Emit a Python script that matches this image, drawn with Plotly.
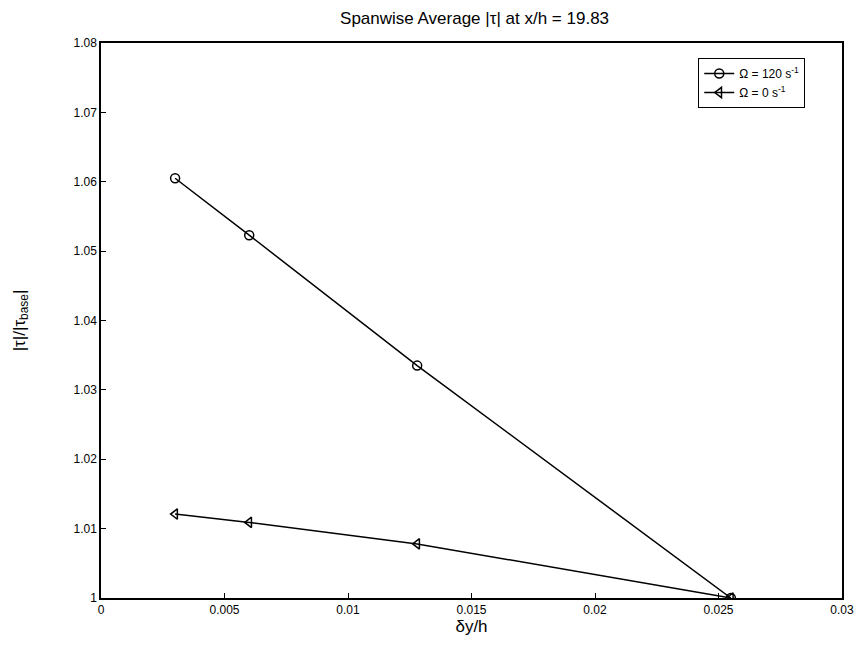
import plotly.graph_objects as go

x_vals = [0.0030, 0.0060, 0.0128, 0.0255]
omega120 = [1.0605, 1.0523, 1.0335, 1.0000]
omega0 = [1.0121, 1.0109, 1.0078, 1.0000]
series_names = ["Ω = 120 s<sup>-1</sup>", "Ω = 0 s<sup>-1</sup>"]
x_ticks = [0, 0.005, 0.01, 0.015, 0.02, 0.025, 0.03]
x_ticktext = ["0", "0.005", "0.01", "0.015", "0.02", "0.025", "0.03"]
y_ticks = [1.0, 1.01, 1.02, 1.03, 1.04, 1.05, 1.06, 1.07, 1.08]
y_ticktext = ["1", "1.01", "1.02", "1.03", "1.04", "1.05", "1.06", "1.07", "1.08"]

font = "Liberation Sans, Arial, sans-serif"

fig = go.Figure()
fig.add_trace(go.Scatter(
    x=x_vals, y=omega120, mode="lines+markers", name=series_names[0],
    line=dict(color="black", width=1.5),
    marker=dict(symbol="circle-open", size=9, color="black", line=dict(width=1.5)),
))
fig.add_trace(go.Scatter(
    x=x_vals, y=omega0, mode="lines+markers", name=series_names[1],
    line=dict(color="black", width=1.5),
    marker=dict(symbol="triangle-left-open", size=9, color="black", line=dict(width=1.5)),
))

axis_common = dict(
    showgrid=False, zeroline=False, showline=True, linecolor="black", linewidth=1.5,
    mirror=True, ticks="inside", ticklen=5, tickcolor="black", tickwidth=1,
    tickfont=dict(family=font, size=12, color="black"),
)

fig.update_layout(
    width=866, height=648,
    margin=dict(l=101, r=18, t=43, b=50),
    paper_bgcolor="white", plot_bgcolor="white",
    title=dict(text="Spanwise Average |τ| at x/h = 19.83", x=0.548, xanchor="center",
               y=0.972, yanchor="middle",
               font=dict(family=font, size=17, color="black")),
    xaxis=dict(range=[0, 0.03], tickvals=x_ticks, ticktext=x_ticktext,
               title=dict(text="δy/h", font=dict(family=font, size=17, color="black"), standoff=4),
               **axis_common),
    yaxis=dict(range=[1.0, 1.08], tickvals=y_ticks, ticktext=y_ticktext,
               title=dict(text="|τ|/|τ<sub>base</sub>|", font=dict(family=font, size=17, color="black"), standoff=44),
               **axis_common),
    legend=dict(x=0.806, y=0.973, xanchor="left", yanchor="top",
                bgcolor="white", bordercolor="black", borderwidth=1,
                font=dict(family=font, size=12, color="black"),
                itemwidth=30, tracegroupgap=0),
    showlegend=True,
)

fig.write_html("out.html")
